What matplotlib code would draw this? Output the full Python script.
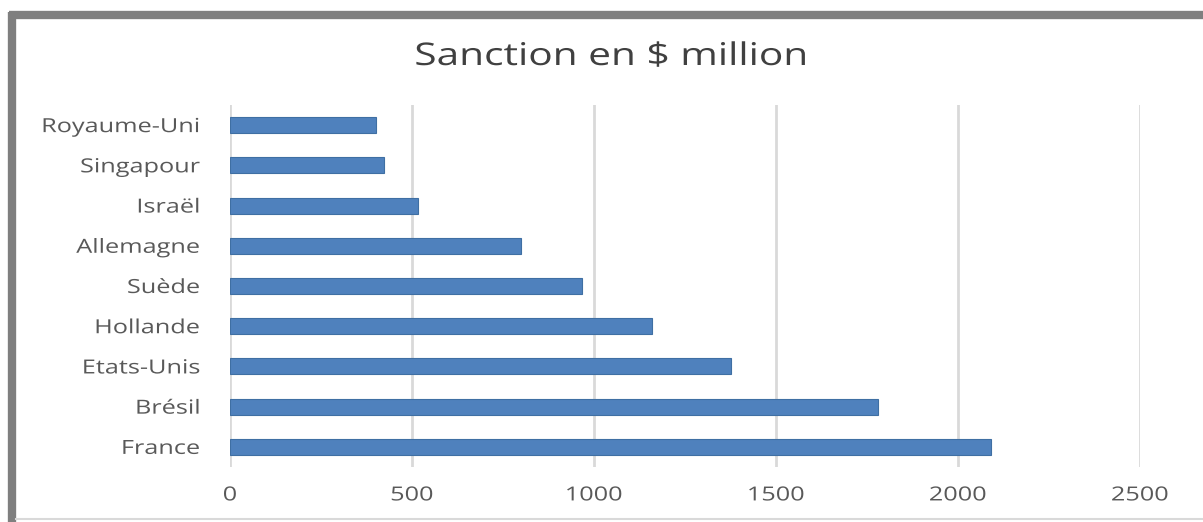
import matplotlib
matplotlib.use("Agg")
import matplotlib.pyplot as plt
from matplotlib.lines import Line2D
from matplotlib.patheffects import AbstractPathEffect
from matplotlib.transforms import Affine2D
from matplotlib.path import Path

countries = ["Royaume-Uni", "Singapour", "Israël", "Allemagne", "Suède",
             "Hollande", "Etats-Unis", "Brésil", "France"]
sanctions = [400, 422, 517, 800, 967, 1158, 1376, 1780, 2090]
xticks = [0, 500, 1000, 1500, 2000, 2500]
title = "Sanction en $ million"


class StretchX(AbstractPathEffect):
    """Widen the text horizontally (the reference is a stretched screenshot)."""
    def __init__(self, sx, anchor):
        super().__init__()
        self.sx = sx
        self.anchor = anchor

    def draw_path(self, renderer, gc, tpath, affine, rgbFace=None):
        verts = tpath.vertices
        if tpath.codes is not None:
            verts = verts[tpath.codes != Path.CLOSEPOLY]
        pts = affine.transform(verts)
        xmin, xmax = pts[:, 0].min(), pts[:, 0].max()
        cx = {"left": xmin, "right": xmax, "center": (xmin + xmax) / 2}[self.anchor]
        t = affine + Affine2D().translate(-cx, 0).scale(self.sx, 1).translate(cx, 0)
        renderer.draw_path(gc, tpath, t, rgbFace)


plt.rcParams['font.family'] = ['Open Sans', 'DejaVu Sans']

W, H = 1203, 522
SX = 1.3
fig = plt.figure(figsize=(W / 100, H / 100), dpi=100)
fig.patch.set_facecolor("white")

ax = fig.add_axes([230 / W, 1 - 467 / H, (1140 - 230) / W, (467 - 105) / H])
ypos = list(range(len(countries)))
ax.barh(ypos, sanctions, height=0.4, color="#4f81bd", edgecolor="#3f6fa3",
        linewidth=0.8, zorder=3)
ax.set_ylim(len(countries) - 0.5, -0.5)
ax.set_xlim(0, 2500)
ax.set_xticks(xticks)
ax.set_xticklabels([str(t) for t in xticks])
ax.set_yticks(ypos)
ax.set_yticklabels(countries)
ax.tick_params(axis="both", length=0, labelsize=14, colors="#595959")
ax.tick_params(axis="x", pad=14)
ax.tick_params(axis="y", pad=21.5)
for lab in ax.get_xticklabels():
    lab.set_path_effects([StretchX(SX, "center")])
for lab in ax.get_yticklabels():
    lab.set_path_effects([StretchX(SX, "right")])
ax.grid(axis="x", color="#d9d9d9", linewidth=2, zorder=0)
for s in ax.spines.values():
    s.set_visible(False)

fig.text(611 / W, 1 - 57 / H, title, ha="center", va="center",
         fontsize=22.5, color="#404040",
         path_effects=[StretchX(SX, "center")])

# outer frame (screenshot border)
fig.add_artist(Line2D([12 / W, 12 / W], [0, 1 - 12 / H], color="#7f7f7f",
                      linewidth=6, solid_capstyle="butt"))
fig.add_artist(Line2D([9 / W, 1], [1 - 15 / H, 1 - 15 / H], color="#7f7f7f",
                      linewidth=6, solid_capstyle="butt"))
fig.add_artist(Line2D([16 / W, 1], [1 - 519 / H, 1 - 519 / H], color="#d9d9d9",
                      linewidth=1.5))

fig.savefig("out.png", dpi=100)
